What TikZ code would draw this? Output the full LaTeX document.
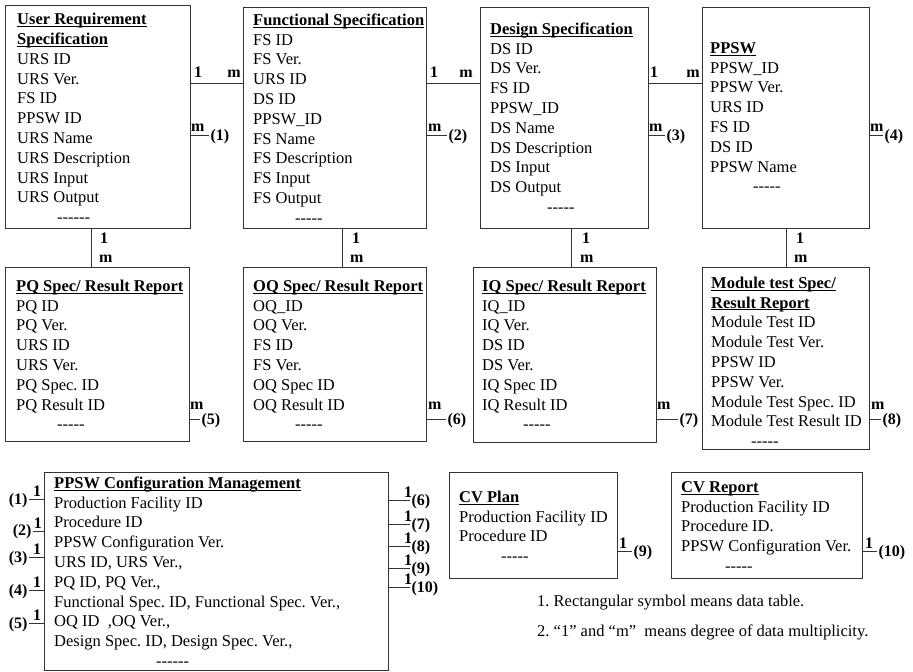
\documentclass[tikz,border=0pt]{standalone}
\usepackage{fontspec}
\setmainfont{Liberation Serif}
\frenchspacing
% bold table title with a thin underline just under the baseline
\newcommand\hdr[1]{\setbox0\hbox{\bfseries #1}\rlap{\rule[-2.2pt]{\wd0}{0.9pt}}\box0}
% a run of hyphens that must not turn into dashes
\newcommand\dsh[1]{\foreach \k in {1,...,#1}{-{}}}
\begin{document}
\begin{tikzpicture}[x=1pt, y=-1pt,
  table/.style={draw=black!80, line width=1pt, anchor=north west, inner sep=0pt, outer sep=0pt},
  fields/.style={anchor=north west, align=left, inner sep=0pt, font=\fontsize{16.5}{19.8}\selectfont},
  card/.style={inner sep=0pt, font=\bfseries\fontsize{16}{19}\selectfont},
  ref/.style={inner sep=1pt, font=\bfseries\fontsize{16}{19}\selectfont},
  note/.style={anchor=base west, inner sep=0pt, font=\fontsize{16.5}{19.8}\selectfont},
  link/.style={draw=black!80, line width=1pt},
]
\useasboundingbox (0,0) rectangle (913,672);

% ---------- tables ----------
\node[table, minimum width=185pt, minimum height=223pt] (urs)  at (5,5)   {};
\node[table, minimum width=183pt, minimum height=221pt] (fs)   at (243,7) {};
\node[table, minimum width=168pt, minimum height=221pt] (ds)   at (480,7) {};
\node[table, minimum width=167pt, minimum height=221pt] (ppsw) at (702,7) {};
\node[table, minimum width=184pt, minimum height=174pt] (pq)   at (5,267)   {};
\node[table, minimum width=183pt, minimum height=174pt] (oq)   at (243,267) {};
\node[table, minimum width=183pt, minimum height=175pt] (iq)   at (473,267) {};
\node[table, minimum width=167pt, minimum height=182pt] (mod)  at (702,267) {};
\node[table, minimum width=344pt, minimum height=198pt] (cm)   at (44,472)  {};
\node[table, minimum width=168pt, minimum height=106pt] (cvp)  at (449,472) {};
\node[table, minimum width=191pt, minimum height=106pt] (cvr)  at (671,472) {};

% ---------- table fields (first baseline = y + 13) ----------
\node[fields] (ursT) at (17,24.5-13) {\rule{0pt}{13pt}\hdr{User Requirement}\\\hdr{Specification}\\URS ID\\URS Ver.\\FS ID\\PPSW ID\\URS Name\\URS Description\\URS Input\\URS Output\\\hspace*{40pt}\dsh{6}};
\node[fields] (fsT) at (253,25-13) {\rule{0pt}{13pt}\hdr{Functional Specification}\\FS ID\\FS Ver.\\URS ID\\DS ID\\PPSW\_ID\\FS Name\\FS Description\\FS Input\\FS Output\\\hspace*{42pt}\dsh{5}};
\node[fields] (dsT) at (490,34-13) {\rule{0pt}{13pt}\hdr{Design Specification}\\DS ID\\DS Ver.\\FS ID\\PPSW\_ID\\DS Name\\DS Description\\DS Input\\DS Output\\\hspace*{57pt}\dsh{5}};
\node[fields] (ppswT) at (710,53-13) {\rule{0pt}{13pt}\hdr{PPSW}\\PPSW\_ID\\PPSW Ver.\\URS ID\\FS ID\\DS ID\\PPSW Name\\\hspace*{43pt}\dsh{5}};
\node[fields] (pqT) at (16,291-13) {\rule{0pt}{13pt}\hdr{PQ Spec/ Result Report}\\PQ ID\\PQ Ver.\\URS ID\\URS Ver.\\PQ Spec. ID\\PQ Result ID\\\hspace*{41pt}\dsh{5}};
\node[fields] (oqT) at (253,291-13) {\rule{0pt}{13pt}\hdr{OQ Spec/ Result Report}\\OQ\_ID\\OQ Ver.\\FS ID\\FS Ver.\\OQ Spec ID\\OQ Result ID\\\hspace*{42pt}\dsh{5}};
\node[fields] (iqT) at (482,291-13) {\rule{0pt}{13pt}\hdr{IQ Spec/ Result Report}\\IQ\_ID\\IQ Ver.\\DS ID\\DS Ver.\\IQ Spec ID\\IQ Result ID\\\hspace*{41pt}\dsh{5}};
\node[fields] (modT) at (711,288-13) {\rule{0pt}{13pt}\hdr{Module test Spec/}\\\hdr{Result Report}\\Module Test ID\\Module Test Ver.\\PPSW ID\\PPSW Ver.\\Module Test Spec. ID\\Module Test Result ID\\\hspace*{40pt}\dsh{5}};
\node[fields] (cmT) at (54,488-13) {\rule{0pt}{13pt}\hdr{PPSW Configuration Management}\\Production Facility ID\\Procedure ID\\PPSW Configuration Ver.\\URS ID, URS Ver.,\\PQ ID, PQ Ver.,\\Functional Spec. ID, Functional Spec. Ver.,\\OQ ID\ \ ,OQ Ver.,\\Design Spec. ID, Design Spec. Ver.,\\\hspace*{102pt}\dsh{6}};
\node[fields] (cvpT) at (459,502-13) {\rule{0pt}{13pt}\hdr{CV Plan}\\Production Facility ID\\Procedure ID\\\hspace*{42pt}\dsh{5}};
\node[fields] (cvrT) at (681,492-13) {\rule{0pt}{13pt}\hdr{CV Report}\\Production Facility ID\\Procedure ID.\\PPSW Configuration Ver.\\\hspace*{44pt}\dsh{5}};

% ---------- 1 : m links along the top row ----------
\draw[link] (urs.east |- 0,83) -- (fs.west |- 0,83);
\draw[link] (fs.east |- 0,83) -- (ds.west |- 0,83);
\draw[link] (ds.east |- 0,83) -- (ppsw.west |- 0,83);
\node[card, anchor=base west] (a1) at (194,77) {1};
\node[card, anchor=base east] (a2) at (241,77) {m};
\node[card, anchor=base west] (b1) at (430,77) {1};
\node[card, anchor=base east] (b2) at (473,77) {m};
\node[card, anchor=base west] (c1) at (650,77) {1};
\node[card, anchor=base east] (c2) at (700,77) {m};

% ---------- 1 : m links down to the test reports ----------
\draw[link] (urs.south -| 91,0) -- (pq.north -| 91,0);
\draw[link] (fs.south -| 342,0) -- (oq.north -| 342,0);
\draw[link] (ds.south -| 571,0) -- (iq.north -| 571,0);
\draw[link] (ppsw.south -| 786,0) -- (mod.north -| 786,0);
\node[card, anchor=base west] (d1) at (100,243) {1};
\node[card, anchor=base west] (d2) at (99,262) {m};
\node[card, anchor=base west] (e1) at (352,243) {1};
\node[card, anchor=base west] (e2) at (350,262) {m};
\node[card, anchor=base west] (f1) at (582,243) {1};
\node[card, anchor=base west] (f2) at (580,262) {m};
\node[card, anchor=base west] (g1) at (796,243) {1};
\node[card, anchor=base west] (g2) at (794,262) {m};

% ---------- m-side stubs (1)-(8) ----------
\draw[link] (urs.east |- 0,135) -- ++(19,0) node[ref, anchor=west, yshift=-2pt] (s1) {(1)};
\draw[link] (fs.east |- 0,135) -- ++(21,0) node[ref, anchor=west, yshift=-2pt] (s2) {(2)};
\draw[link] (ds.east |- 0,135) -- ++(17,0) node[ref, anchor=west, yshift=-2pt] (s3) {(3)};
\draw[link] (ppsw.east |- 0,135) -- ++(14,0) node[ref, anchor=west, yshift=-2pt] (s4) {(4)};
\node[card, anchor=base west] (m1) at (191,131) {m};
\node[card, anchor=base west] (m2) at (428,131) {m};
\node[card, anchor=base west] (m3) at (649,131) {m};
\node[card, anchor=base west] (m4) at (870,131) {m};

\draw[link] (pq.east |- 0,419) -- ++(11,0) node[ref, anchor=west, yshift=-2pt] (s5) {(5)};
\draw[link] (oq.east |- 0,419) -- ++(20,0) node[ref, anchor=west, yshift=-2pt] (s6) {(6)};
\draw[link] (iq.east |- 0,419) -- ++(22,0) node[ref, anchor=west, yshift=-2pt] (s7) {(7)};
\draw[link] (mod.east |- 0,419) -- ++(12,0) node[ref, anchor=west, yshift=-2pt] (s8) {(8)};
\node[card, anchor=base west] (m5) at (190,409) {m};
\node[card, anchor=base west] (m6) at (428,409) {m};
\node[card, anchor=base west] (m7) at (657,409) {m};
\node[card, anchor=base west] (m8) at (871,409) {m};

% ---------- 1-side stubs on the configuration table ----------
\draw[link] (cm.west |- 0,499) -- ++(-15,0) node[ref, anchor=east, yshift=-2pt] (t1) {(1)};
\draw[link] (cm.west |- 0,531) -- ++(-11,0) node[ref, anchor=east, yshift=-1pt] (t2) {(2)};
\draw[link] (cm.west |- 0,557) -- ++(-15,0) node[ref, anchor=east, yshift=-2pt] (t3) {(3)};
\draw[link] (cm.west |- 0,590) -- ++(-15,0) node[ref, anchor=east, yshift=-2pt] (t4) {(4)};
\draw[link] (cm.west |- 0,623) -- ++(-15,0) node[ref, anchor=east, yshift=-2pt] (t5) {(5)};
\node[card, anchor=base] (o1) at (37,496) {1};
\node[card, anchor=base] (o2) at (38,528) {1};
\node[card, anchor=base] (o3) at (37,554) {1};
\node[card, anchor=base] (o4) at (37,587) {1};
\node[card, anchor=base] (o5) at (37,620) {1};

\draw[link] (cm.east |- 0,500) -- ++(22,0) node[ref, anchor=west, yshift=-2pt] (t6) {(6)};
\draw[link] (cm.east |- 0,524) -- ++(22,0) node[ref, anchor=west, yshift=-2pt] (t7) {(7)};
\draw[link] (cm.east |- 0,546) -- ++(22,0) node[ref, anchor=west, yshift=-2pt] (t8) {(8)};
\draw[link] (cm.east |- 0,568) -- ++(22,0) node[ref, anchor=west, yshift=-2pt] (t9) {(9)};
\draw[link] (cm.east |- 0,587) -- ++(22,0) node[ref, anchor=west, yshift=-2pt] (t10) {(10)};
\node[card, anchor=base] (o6) at (408,497) {1};
\node[card, anchor=base] (o7) at (408,521) {1};
\node[card, anchor=base] (o8) at (408,543) {1};
\node[card, anchor=base] (o9) at (408,565) {1};
\node[card, anchor=base] (o10) at (408,584) {1};

% ---------- 1-side stubs on the CV tables ----------
\draw[link] (cvp.east |- 0,551) -- ++(15,0) node[ref, anchor=west, yshift=-2pt] (t9b) {(9)};
\draw[link] (cvr.east |- 0,551) -- ++(15,0) node[ref, anchor=west, yshift=-2pt] (t10b) {(10)};
\node[card, anchor=base] (o9b) at (623,548) {1};
\node[card, anchor=base] (o10b) at (869,548) {1};

% ---------- notes ----------
\node[note] (n1) at (537,606) {1. Rectangular symbol means data table.};
\node[note] (n2) at (537,636) {2. “1” and “m”\ \ means degree of data multiplicity.};
\end{tikzpicture}
\end{document}
